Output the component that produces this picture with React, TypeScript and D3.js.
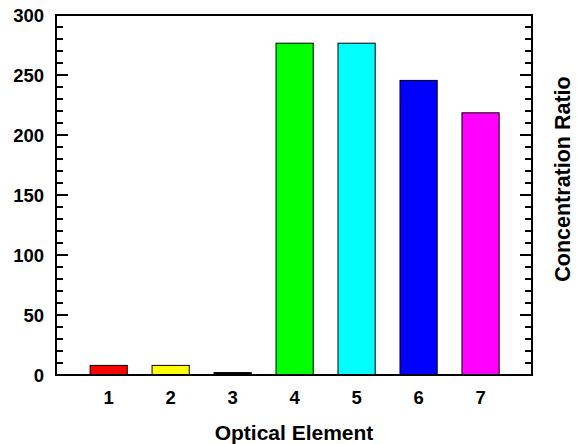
import React from 'react';
import * as d3 from 'd3';

const elements = [1, 2, 3, 4, 5, 6, 7];
const ratios = [8, 8, 2, 276.5, 276.5, 245.5, 218.5];
const barColors = ['#ff0000', '#ffff00', '#000000', '#00ff00', '#00ffff', '#0000ff', '#ff00ff'];
const yTicks = [0, 50, 100, 150, 200, 250, 300];

const W = 578;
const H = 444;
const m = { top: 15, right: 46, bottom: 69, left: 56 };
const font = '"Liberation Sans", Arial, sans-serif';

export default function App() {
  const x = d3.scaleLinear().domain([0.15, 7.83]).range([m.left, W - m.right]);
  const y = d3.scaleLinear().domain([0, 300]).range([H - m.bottom, m.top]);
  const barW = x(1.6) - x(1);
  const minor = d3.range(0, 301, 10);
  const x0 = m.left;
  const x1 = W - m.right;

  return (
    <svg width={W} height={H} style={{ position: 'absolute', left: 0, top: 0, background: '#fff' }}>
      {elements.map((e, i) => (
        <rect
          key={e}
          x={x(e) - barW / 2}
          y={y(ratios[i])}
          width={barW}
          height={y(0) - y(ratios[i])}
          fill={barColors[i]}
          stroke="#000"
          strokeWidth={1}
        />
      ))}
      {minor.map((v) => {
        const len = v % 50 === 0 ? 12 : 7;
        return (
          <g key={v} stroke="#000" strokeWidth={2}>
            <line x1={x0} x2={x0 + len} y1={y(v)} y2={y(v)} />
            <line x1={x1} x2={x1 - len} y1={y(v)} y2={y(v)} />
          </g>
        );
      })}
      <rect x={x0} y={m.top} width={x1 - x0} height={y(0) - m.top} fill="none" stroke="#000" strokeWidth={2} />
      {yTicks.map((v) => (
        <text key={v} x={x0 - 12} y={y(v)} dy="0.36em" textAnchor="end" fontFamily={font} fontWeight="bold" fontSize={18.5}>
          {v}
        </text>
      ))}
      {elements.map((e) => (
        <text key={e} x={x(e)} y={404} textAnchor="middle" fontFamily={font} fontWeight="bold" fontSize={18.5}>
          {e}
        </text>
      ))}
      <text x={294} y={440} textAnchor="middle" fontFamily={font} fontWeight="bold" fontSize={21}>
        Optical Element
      </text>
      <text
        transform={`translate(562,179) rotate(-90)`}
        dy="0.36em"
        textAnchor="middle"
        fontFamily={font}
        fontWeight="bold"
        fontSize={21.5}
      >
        Concentration Ratio
      </text>
    </svg>
  );
}
